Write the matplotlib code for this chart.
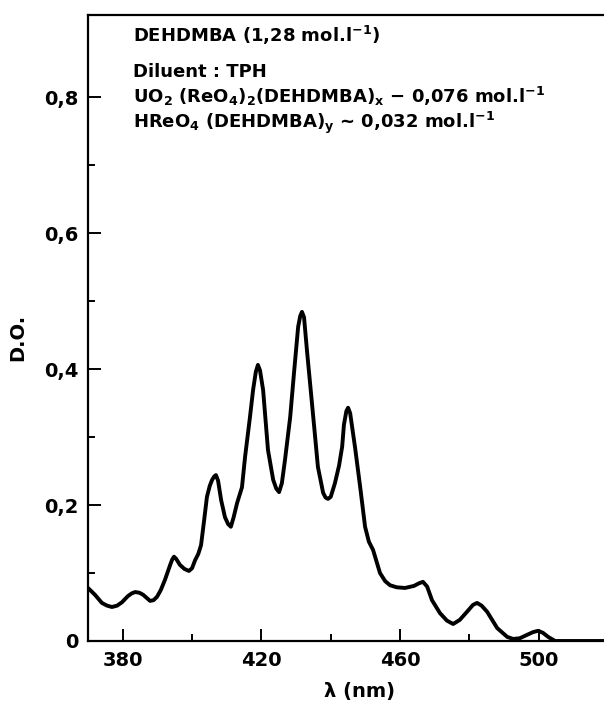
import numpy as np
import matplotlib
matplotlib.use("Agg")
import matplotlib.pyplot as plt

# spectrum
wavelength = [370.0, 372.0, 374.0, 375.5, 376.9, 378.4, 379.8, 381.5, 382.6, 383.6,
              384.8, 385.9, 387.0, 387.9, 388.9, 389.9, 391.0, 392.2, 393.7, 394.3,
              394.8, 395.4, 396.5, 397.8, 399.1, 400.0, 400.9, 401.8, 402.6, 403.5,
              404.3, 405.1, 405.8, 406.4, 406.9, 407.5, 408.4, 409.5, 410.4, 411.2,
              412.0, 413.0, 414.4, 415.3, 416.7, 417.6, 418.4, 419.0, 419.6, 420.5,
              421.9, 423.4, 424.3, 425.1, 425.9, 426.8, 428.3, 429.4, 430.6, 431.2,
              431.7, 432.3, 433.2, 434.3, 435.5, 436.3, 437.8, 438.5, 439.2, 440.0,
              441.2, 442.4, 443.3, 443.8, 444.5, 445.0, 445.6, 447.0, 448.5, 449.9,
              451.0, 452.2, 454.2, 455.7, 457.1, 459.0, 461.4, 464.0, 465.5, 466.6,
              467.8, 469.2, 471.5, 473.5, 475.3, 477.2, 479.3, 481.0, 482.2, 483.5,
              485.1, 488.0, 490.9, 492.6, 494.5, 496.6, 498.3, 499.8, 501.2, 502.7,
              504.7, 519.0]
absorbance = [0.078, 0.068, 0.056, 0.052, 0.050, 0.052, 0.057, 0.066, 0.070, 0.072,
              0.071, 0.068, 0.063, 0.059, 0.060, 0.065, 0.075, 0.090, 0.112, 0.120,
              0.124, 0.121, 0.112, 0.106, 0.103, 0.107, 0.119, 0.128, 0.141, 0.178,
              0.212, 0.228, 0.237, 0.242, 0.244, 0.236, 0.207, 0.182, 0.172, 0.168,
              0.182, 0.203, 0.226, 0.271, 0.329, 0.369, 0.396, 0.406, 0.398, 0.369,
              0.281, 0.237, 0.224, 0.219, 0.232, 0.266, 0.329, 0.394, 0.462, 0.478,
              0.484, 0.476, 0.424, 0.365, 0.300, 0.256, 0.218, 0.211, 0.209, 0.212,
              0.232, 0.258, 0.286, 0.318, 0.338, 0.343, 0.335, 0.285, 0.226, 0.168,
              0.146, 0.134, 0.100, 0.088, 0.082, 0.079, 0.078, 0.081, 0.085, 0.087,
              0.080, 0.060, 0.041, 0.030, 0.025, 0.031, 0.043, 0.053, 0.056, 0.052,
              0.043, 0.019, 0.006, 0.003, 0.004, 0.009, 0.013, 0.015, 0.012, 0.006,
              0.0, 0.0]

xticks = [380, 420, 460, 500]
xticks_minor = [400, 440, 480]
yticks = [0, 0.2, 0.4, 0.6, 0.8]
ytick_labels = ["0", "0,2", "0,4", "0,6", "0,8"]
yticks_minor = [0.1, 0.3, 0.5, 0.7]

legend_lines = [
    r"DEHDMBA (1,28 mol.l$^{-1}$)",
    r"Diluent : TPH",
    r"UO$_2$ (ReO$_4$)$_2$(DEHDMBA)$_x$ $-$ 0,076 mol.l$^{-1}$",
    r"HReO$_4$ (DEHDMBA)$_y$ ~ 0,032 mol.l$^{-1}$",
]

plt.rcParams["font.family"] = "DejaVu Sans"
plt.rcParams["font.weight"] = "bold"
plt.rcParams["mathtext.default"] = "bf"

W, H = 604, 705
fig = plt.figure(figsize=(W/100, H/100), dpi=100)
ax = fig.add_axes([88/W, 64/H, 1 - 88/W, 626/H])

ax.plot(wavelength, absorbance, color="black", lw=2.8,
        solid_capstyle="round", solid_joinstyle="round")

ax.set_xlim(370, 518.8)
ax.set_ylim(0, 0.9206)
ax.set_xticks(xticks)
ax.set_xticks(xticks_minor, minor=True)
ax.set_yticks(yticks)
ax.set_yticklabels(ytick_labels)
ax.set_yticks(yticks_minor, minor=True)

ax.tick_params(which="major", direction="in", length=9, width=1.4, labelsize=14, pad=7)
ax.tick_params(which="minor", direction="in", length=5, width=1.4)
ax.spines["right"].set_visible(False)
for s in ["left", "bottom", "top"]:
    ax.spines[s].set_linewidth(1.6)

ax.set_ylabel("D.O.", fontsize=14, fontweight="bold")
ax.yaxis.set_label_coords(-(88 - 27) / 516, (641 - 337) / 626)

fig.text(360/W, 1 - 692/H, "λ (nm)", ha="center", va="center", fontsize=14, fontweight="bold")

baselines = [42, 77, 103, 128]
for txt, b in zip(legend_lines, baselines):
    fig.text(133/W, 1 - b/H, txt, ha="left", va="baseline", fontsize=13, fontweight="bold")

fig.savefig("out.png", dpi=100)
